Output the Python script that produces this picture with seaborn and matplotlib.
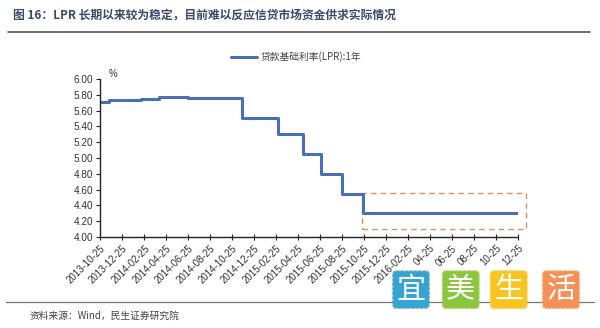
import matplotlib
matplotlib.use("Agg")
import matplotlib.pyplot as plt
import matplotlib.dates as mdates
from matplotlib.patches import Rectangle
import seaborn as sns
import pandas as pd

# ---- data ----
change_dates = ["2013-10-25", "2013-11-20", "2014-02-15", "2014-04-05", "2014-06-25",
                "2014-11-22", "2015-03-01", "2015-05-11", "2015-06-28", "2015-08-26",
                "2015-10-24", "2016-12-25"]
lpr_1y = [5.71, 5.73, 5.75, 5.77, 5.76, 5.51, 5.30, 5.05, 4.80, 4.55, 4.30, 4.30]
tick_dates = ["2013-10-25", "2013-12-25", "2014-02-25", "2014-04-25", "2014-06-25",
              "2014-08-25", "2014-10-25", "2014-12-25", "2015-02-25", "2015-04-25",
              "2015-06-25", "2015-08-25", "2015-10-25", "2015-12-25", "2016-02-25",
              "2016-04-25", "2016-06-25", "2016-08-25", "2016-10-25", "2016-12-25"]
tick_labels = ["2013-10-25", "2013-12-25", "2014-02-25", "2014-04-25", "2014-06-25",
               "2014-08-25", "2014-10-25", "2014-12-25", "2015-02-25", "2015-04-25",
               "2015-06-25", "2015-08-25", "2015-10-25", "2015-12-25", "2016-02-25",
               "04-25", "06-25", "08-25", "10-25", "12-25"]
yticks = [4.00, 4.20, 4.40, 4.60, 4.80, 5.00, 5.20, 5.40, 5.60, 5.80, 6.00]
series_name = "贷款基础利率(LPR):1年"
title = "图 16：LPR 长期以来较为稳定，目前难以反应信贷市场资金供求实际情况"
source = "资料来源：Wind，民生证券研究院"
watermark = ["宜", "美", "生", "活"]
watermark_colors = ["#35a3d4", "#8cc63f", "#f7c51e", "#f39159"]

sns.set_style("white")
plt.rcParams['font.family'] = ['Noto Sans CJK SC', 'DejaVu Sans']

df = pd.DataFrame({"date": pd.to_datetime(change_dates), "rate": lpr_1y})

fig = plt.figure(figsize=(6.0, 3.28), dpi=100)
fig.patch.set_facecolor("white")
ax = fig.add_axes([0.1667, 0.2774, 0.6963, 0.4816])

sns.lineplot(data=df, x="date", y="rate", ax=ax, drawstyle="steps-post",
             color="#4a6fb3", linewidth=2.2, label=series_name)

ax.set_xlim(pd.Timestamp(tick_dates[0]), pd.Timestamp(tick_dates[-1]))
ax.set_ylim(4.0, 6.0)
ax.set_yticks(yticks)
ax.set_yticklabels([f"{v:.2f}" for v in yticks], fontsize=7.2, color="#333333",
                   family=["Liberation Sans", "DejaVu Sans"])
ax.set_xticks([mdates.date2num(pd.Timestamp(d)) for d in tick_dates])
ax.set_xticklabels(tick_labels, rotation=45, ha="right", rotation_mode="anchor",
                   fontsize=7, color="#333333", family=["Liberation Sans", "DejaVu Sans"])
ax.set_xlabel("")
ax.set_ylabel("")
for s in ["top", "right"]:
    ax.spines[s].set_visible(False)
for s in ["left", "bottom"]:
    ax.spines[s].set_color("#222222")
    ax.spines[s].set_linewidth(1.0)
ax.tick_params(axis="y", direction="out", length=3, width=0.8, color="#222222", pad=2, left=True)
ax.tick_params(axis="x", direction="inout", length=5, width=0.8, color="#222222", pad=2, bottom=True)

ax.text(0.02, 1.0, "%", transform=ax.transAxes, fontsize=7, color="#333333", va="bottom",
        family=["Liberation Sans", "DejaVu Sans"])

# dashed highlight box
x0 = mdates.date2num(pd.Timestamp("2015-10-20"))
x1 = mdates.date2num(pd.Timestamp("2017-01-18"))
rect = Rectangle((x0, 4.10), x1 - x0, 0.46, fill=False, edgecolor="#e0915a",
                 linestyle=(0, (4, 3)), linewidth=1.0, clip_on=False)
ax.add_patch(rect)

leg = ax.legend(loc="center", bbox_to_anchor=(0.47, 1.14), frameon=False,
                fontsize=7, handlelength=2.6, handletextpad=0.4)
for t in leg.get_texts():
    t.set_color("#444444")

# title & rules
fig.text(0.022, 0.955, title, fontsize=8.5, fontweight="bold", color="#3a4a6a", va="center")
fig.add_artist(plt.Line2D([0.013, 0.983], [0.902, 0.902], color="#555555", linewidth=1.2))
fig.add_artist(plt.Line2D([0.01, 0.99], [0.079, 0.079], color="#777777", linewidth=0.9))
fig.text(0.05, 0.037, source, fontsize=7, color="#444444", va="center")

# watermark
for ch, c, xc in zip(watermark, watermark_colors, [0.685, 0.768, 0.848, 0.935]):
    fig.text(xc, 0.117, ch, fontsize=21, color="white", ha="center", va="center",
             bbox=dict(boxstyle="round,pad=0.14", facecolor=c, edgecolor="#f3d9a0",
                       linestyle=":", linewidth=1.2))

fig.savefig("out.png", dpi=100, facecolor="white")
